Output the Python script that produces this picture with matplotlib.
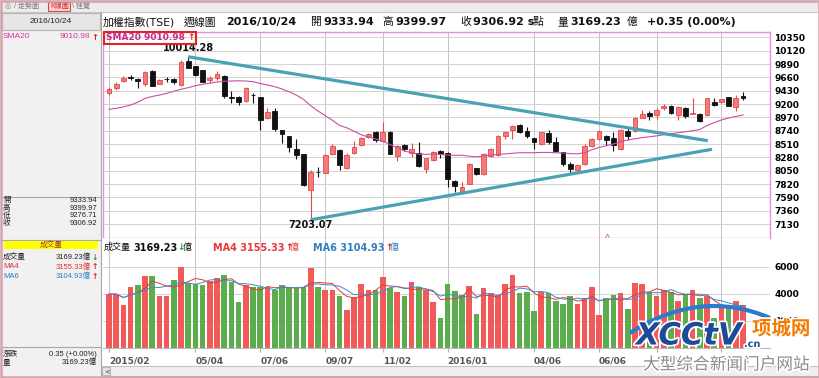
import matplotlib
matplotlib.use('Agg')
import matplotlib.pyplot as plt
import numpy as np
import pandas as pd
from matplotlib.patches import Rectangle, PathPatch
from matplotlib.path import Path
import matplotlib.patheffects as pe

plt.rcParams['font.family'] = ['DejaVu Sans', 'Noto Sans CJK TC']

# ---------------- data ----------------
opens = [9384, 9470, 9597, 9660, 9632, 9540, 9770, 9545, 9632, 9626,
         9528, 9942, 9856, 9781, 9614, 9655, 9689, 9321, 9321, 9252,
         9355, 9315, 8953, 9085, 8746, 8643, 8424, 8332, 7717, 8033,
         8004, 8344, 8413, 8091, 8350, 8493, 8625, 8712, 8562, 8712,
         8298, 8493, 8349, 8361, 8073, 8234, 8390, 8349, 7878, 7700,
         7826, 8091, 7987, 8303, 8321, 8654, 8746, 8838, 8735, 8608,
         8505, 8694, 8551, 8367, 8160, 8056, 8160, 8482, 8597, 8648,
         8620, 8418, 8735, 8735, 8965, 9039, 9010, 9126, 9160, 9010,
         9126, 9033, 9022, 9010, 9229, 9229, 9315, 9154, 9333.94]
highs = [9499, 9574, 9689, 9700, 9643, 9770, 9787, 9626, 9660, 9655,
         9959, 10014.28, 9862, 9793, 9689, 9770, 9700, 9430, 9338, 9499,
         9396, 9327, 9126, 9137, 8746, 8643, 8597, 8332, 8062, 8120,
         8332, 8505, 8424, 8350, 8562, 8637, 8706, 8735, 8895, 8735,
         8493, 8516, 8533, 8551, 8275, 8390, 8407, 8367, 7890, 7861,
         8177, 8102, 8350, 8447, 8666, 8735, 8838, 8850, 8809, 8620,
         8723, 8752, 8637, 8378, 8206, 8160, 8505, 8608, 8752, 8666,
         8723, 8763, 8781, 8982, 9091, 9079, 9126, 9206, 9183, 9160,
         9148, 9298, 9039, 9310, 9310, 9287, 9327, 9355, 9399.97]
lows = [9356, 9442, 9585, 9608, 9482, 9517, 9505, 9540, 9585, 9540,
        9511, 9815, 9689, 9574, 9557, 9620, 9298, 9212, 9183, 9240,
        9223, 8752, 8942, 8740, 8522, 8378, 8252, 7792, 7203.07, 7947,
        8004, 8321, 8062, 8079, 8332, 8481, 8608, 8551, 8551, 8332,
        8217, 8390, 8292, 8114, 8004, 8217, 8275, 7774, 7688, 7688,
        7815, 7976, 7976, 8292, 8309, 8591, 8591, 8694, 8608, 8424,
        8493, 8505, 8378, 8137, 8004, 8045, 8148, 8464, 8579, 8493,
        8390, 8407, 8579, 8723, 8953, 8924, 8942, 9097, 9033, 8924,
        8953, 9022, 8884, 8999, 9171, 9217, 9160, 9079, 9276.71]
closes = [9453, 9540, 9643, 9643, 9597, 9746, 9517, 9614, 9626, 9574,
          9930, 9815, 9700, 9586, 9655, 9712, 9344, 9310, 9229, 9470,
          9350, 8924, 9057, 8769, 8677, 8459, 8321, 7803, 8033, 8027,
          8321, 8476, 8148, 8321, 8459, 8608, 8683, 8574, 8712, 8344,
          8476, 8424, 8418, 8125, 8263, 8367, 8344, 7907, 7786, 7775,
          8165, 7987, 8344, 8424, 8654, 8712, 8821, 8712, 8654, 8551,
          8712, 8551, 8390, 8160, 8073, 8148, 8482, 8597, 8735, 8579,
          8493, 8752, 8654, 8965, 9022, 8999, 9097, 9166, 9045, 9148,
          8999, 9051, 8907, 9298, 9183, 9281, 9171, 9306.57, 9306.92]
sma20 = [9108, 9125, 9150, 9183, 9230, 9298, 9330, 9355, 9384, 9420,
         9455, 9482, 9515, 9540, 9560, 9580, 9592, 9597, 9600, 9597,
         9585, 9555, 9528, 9499, 9460, 9410, 9355, 9280, 9170, 9080,
         9000, 8920, 8830, 8790, 8730, 8670, 8630, 8597, 8560, 8500,
         8450, 8390, 8360, 8335, 8330, 8340, 8330, 8320, 8315, 8315,
         8300, 8290, 8300, 8320, 8330, 8340, 8350, 8360, 8360, 8360,
         8365, 8365, 8360, 8355, 8345, 8340, 8360, 8410, 8450, 8480,
         8510, 8550, 8580, 8600, 8620, 8635, 8650, 8670, 8690, 8705,
         8720, 8740, 8760, 8830, 8880, 8925, 8960, 8985, 9010.98]
volume = [4000, 4000, 3210, 4520, 4666, 5310, 5330, 3850, 3850, 5037,
          6000, 4815, 4740, 4666, 4987, 5210, 5407, 4913, 3407, 4642,
          4518, 4543, 4518, 4271, 4666, 4420, 4420, 4494, 5950, 4543,
          4296, 4296, 3876, 2839, 3802, 4765, 4296, 4296, 5284, 4469,
          4173, 3876, 4864, 4494, 4271, 3382, 2198, 4716, 4222, 3926,
          4617, 2494, 4469, 4049, 3926, 4716, 5407, 4049, 4123, 2741,
          4123, 4049, 3481, 3284, 3876, 3284, 3728, 4494, 2444, 3728,
          3926, 4099, 2889, 4839, 4716, 4173, 3852, 4296, 4123, 3481,
          3975, 4296, 3700, 3852, 2200, 2950, 3020, 3481, 3169.23]
vol_dir = list("rrrrgrgrrg" "rgggrrgggr" "ggrgggggrg" "rrgrrrrgrg" "rgrgrrgggg"
               "rgrrrrrggg" "rggggrrrrg" "grgrrgrrgr" "grgrgrgrr")
date_idx = [0, 12, 21, 30, 38, 47, 59, 68, 76, 85]
date_labels = ['2015/02', '05/04', '07/06', '09/07', '11/02', '2016/01',
               '04/06', '06/06', '08/01', '10/03']
price_ticks = [7130, 7360, 7590, 7820, 8050, 8280, 8510, 8740, 8970, 9200,
               9430, 9660, 9890, 10120, 10350]
vol_ticks = [2000, 4000, 6000]
trend_upper_x = [11, 83.1]
trend_upper_y = [10014.28, 8567]
trend_lower_x = [28, 83.7]
trend_lower_y = [7203.07, 8419]

idx = np.arange(len(closes))
opens = np.array(opens, float); highs = np.array(highs, float)
lows = np.array(lows, float); closes = np.array(closes, float)
vol = pd.Series(volume, dtype=float)
ma4 = vol.rolling(4, min_periods=1).mean()
ma6 = vol.rolling(6, min_periods=1).mean()

# ---------------- figure ----------------
W, H = 820, 378
fig = plt.figure(figsize=(W / 100, H / 100), dpi=100)
fig.patch.set_facecolor('white')

def fx(x): return x / W
def fy(y): return 1 - y / H

def ftext(x, y, s, **kw):
    kw.setdefault('va', 'center')
    kw.setdefault('ha', 'left')
    return fig.text(fx(x), fy(y), s, **kw)

def frect(x0, y0, x1, y1, **kw):
    r = Rectangle((fx(x0), fy(y1)), fx(x1) - fx(x0), fy(y0) - fy(y1),
                  transform=fig.transFigure, **kw)
    fig.add_artist(r)
    return r

def fline(xs, ys, **kw):
    fig.add_artist(plt.Line2D([fx(x) for x in xs], [fy(y) for y in ys],
                              transform=fig.transFigure, **kw))

# top bar & left panel
frect(0, 0, 820, 12, facecolor='#ECECEC', edgecolor='none', zorder=0)
frect(0, 12, 101, 378, facecolor='#F1F1F1', edgecolor='none', zorder=0)
fline([0, 820], [12, 12], color='#C8C8C8', lw=0.8)
frect(2, 13, 100, 30, facecolor='#E6E6E6', edgecolor='#B4B4B4', lw=0.8)
fline([101, 101], [12, 378], color='#A8A8A8', lw=0.8)
small = ['Liberation Sans', 'Noto Sans CJK TC']
ftext(5, 6, '◎', fontsize=5, color='#888888')
ftext(14, 6, '/ 走勢圖', fontsize=5, color='#777777', family=small)
frect(48, 2, 70, 11, facecolor='#F6D6D6', edgecolor='#E04040', lw=0.8)
ftext(50, 6.5, 'K線圖', fontsize=5, color='#D02020', family=small)
ftext(72, 6, '\\ 速覽', fontsize=5, color='#777777', family=small)
ftext(51, 21.5, '2016/10/24', fontsize=6, ha='center', color='#222222', family=small)

ftext(3, 37, 'SMA20', fontsize=6, color='#D4389C', family=small)
ftext(90, 37, '9010.98', fontsize=6, ha='right', color='#D4389C', family=small)
ftext(91, 37, '↑', fontsize=6, color='#E02020', fontweight='bold')

fline([2, 100], [197, 197], color='#A8A8A8', lw=0.8)
for yy, lab, val in [(200.7, '開', '9333.94'), (208.2, '高', '9399.97'),
                     (215.7, '低', '9276.71'), (223.2, '收', '9306.92')]:
    ftext(3, yy, lab, fontsize=5.5, color='#222222', family=small)
    ftext(97, yy, val, fontsize=5.5, ha='right', color='#222222', family=small)

fline([2, 100], [239.5, 239.5], color='#A8A8A8', lw=0.8)
frect(4, 241, 98, 248.5, facecolor='#FFFF00', edgecolor='none')
ftext(51, 244.8, '成交量', fontsize=5.5, ha='center', color='#A83030', family=small)
ftext(3, 257, '成交量', fontsize=5.5, color='#222222', family=small)
ftext(91, 257, '3169.23億', fontsize=5.5, ha='right', color='#222222', family=small)
ftext(92, 257, '↓', fontsize=5.5, color='#1E9E2E', fontweight='bold')
ftext(3, 266.7, 'MA4', fontsize=5.5, color='#E03030', family=small)
ftext(91, 266.7, '3155.33億', fontsize=5.5, ha='right', color='#E03030', family=small)
ftext(92, 266.7, '↑', fontsize=5.5, color='#E02020', fontweight='bold')
ftext(3, 276.4, 'MA6', fontsize=5.5, color='#2E7FC0', family=small)
ftext(91, 276.4, '3104.93億', fontsize=5.5, ha='right', color='#2E7FC0', family=small)
ftext(92, 276.4, '↑', fontsize=5.5, color='#E02020', fontweight='bold')

fline([2, 100], [346.5, 346.5], color='#A8A8A8', lw=0.8)
ftext(3, 354.5, '漲跌', fontsize=5.5, color='#222222', family=small)
ftext(97, 354.5, '0.35 (+0.00%)', fontsize=5.5, ha='right', color='#222222', family=small)
ftext(3, 362.5, '量', fontsize=5.5, color='#222222', family=small)
ftext(97, 362.5, '3169.23億', fontsize=5.5, ha='right', color='#222222', family=small)

# scrollbar
frect(101, 366, 820, 376, facecolor='#EFEFEF', edgecolor='#C4C4C4', lw=0.8)
frect(102, 367, 110, 375, facecolor='#E2E2E2', edgecolor='#B0B0B0', lw=0.6)
ftext(104, 371, '<', fontsize=5, color='#444444')

# title row
ftext(103, 22, '加權指數(TSE)', fontsize=7.8, color='#111111')
ftext(184, 22, '週線圖', fontsize=7.8, color='#111111')
ftext(226, 22, '2016/10/24', fontsize=8, fontweight='bold', color='#111111')
ftext(310, 22, '開', fontsize=7.8, color='#111111')
ftext(323, 22, '9333.94', fontsize=8, fontweight='bold', color='#111111')
ftext(382, 22, '高', fontsize=7.8, color='#111111')
ftext(395, 22, '9399.97', fontsize=8, fontweight='bold', color='#111111')
ftext(460, 22, '收', fontsize=7.8, color='#111111')
ftext(473, 22, '9306.92 s', fontsize=8, fontweight='bold', color='#111111')
ftext(533, 22, '點', fontsize=7.8, color='#111111')
ftext(557, 22, '量', fontsize=7.8, color='#111111')
ftext(570, 22, '3169.23', fontsize=8, fontweight='bold', color='#111111')
ftext(627, 22, '億', fontsize=7.8, color='#111111')
ftext(647, 22, '+0.35 (0.00%)', fontsize=8, fontweight='bold', color='#111111')

# ---------------- price axes ----------------
XL = (-0.83, 91.74)
axp = fig.add_axes([fx(103), fy(238), fx(770) - fx(103), fy(32) - fy(238)])
axp.set_xlim(*XL)
axp.set_ylim(6889, 10442)
axp.set_yticks(price_ticks)
axp.yaxis.tick_right()
axp.tick_params(axis='y', length=0, pad=3, labelsize=6.5)
for lab in axp.get_yticklabels():
    lab.set_fontweight('bold')
axp.set_xticks(date_idx)
axp.tick_params(axis='x', length=0, labelbottom=False)
axp.grid(True, axis='y', color='#D2D2D2', lw=0.7)
axp.grid(True, axis='x', color='#C4C4C4', lw=0.7)
axp.set_axisbelow(True)
for s in axp.spines.values():
    s.set_color('#E48EE4'); s.set_linewidth(1.0)

up = closes >= opens
wick_col = np.where(up, '#E24A4A', '#111111')
axp.vlines(idx, lows, highs, colors=wick_col, lw=0.8, zorder=2)
body_bot = np.minimum(opens, closes)
body_h = np.maximum(np.abs(closes - opens), 8)
axp.bar(idx, body_h, bottom=body_bot, width=0.66,
        color=np.where(up, '#F47A7A', '#111111'),
        edgecolor=np.where(up, '#E24A4A', '#111111'), lw=0.6, zorder=3)
axp.plot(idx, sma20, color='#C850A0', lw=0.8, zorder=4)
axp.plot(trend_upper_x, trend_upper_y, color='#4AA2B6', lw=2.3,
         solid_capstyle='butt', zorder=5)
axp.plot(trend_lower_x, trend_lower_y, color='#4AA2B6', lw=2.3,
         solid_capstyle='butt', zorder=5)
imax = int(np.argmax(highs)); imin = int(np.argmin(lows))
axp.annotate(f'{highs[imax]:.2f}', xy=(imax, highs[imax]), xytext=(0, 2.5),
             textcoords='offset points', ha='center', va='bottom',
             fontsize=7, fontweight='bold', color='#111111', zorder=6)
axp.annotate(f'{lows[imin]:.2f}', xy=(imin, lows[imin]), xytext=(0, -0.5),
             textcoords='offset points', ha='center', va='top',
             fontsize=7, fontweight='bold', color='#111111', zorder=6)
axp.plot([69.1], [6922], marker='^', ms=3.5, mfc='none', mec='#D070D0',
         mew=0.7, clip_on=False, zorder=6)

# SMA20 legend box
frect(104, 32.5, 196, 44, fill=False, edgecolor='#E02424', lw=1.5, zorder=10)
ftext(106, 38, 'SMA20 9010.98', fontsize=6.5, fontweight='bold', color='#C8288C', zorder=11)
ftext(187, 38, '↑', fontsize=6.5, fontweight='bold', color='#E02020', zorder=11)

# ---------------- volume axes ----------------
axv = fig.add_axes([fx(103), fy(348), fx(770) - fx(103), fy(238) - fy(348)])
axv.set_xlim(*XL)
axv.set_ylim(0, 8148)
axv.set_yticks(vol_ticks)
axv.yaxis.tick_right()
axv.tick_params(axis='y', length=0, pad=3, labelsize=6.5)
for lab in axv.get_yticklabels():
    lab.set_fontweight('bold')
axv.set_xticks(date_idx)
axv.set_xticklabels(date_labels, ha='left')
axv.tick_params(axis='x', length=3, color='#B0B0B0', pad=3, labelsize=6.5,
                labelcolor='#555555')
for lab in axv.get_xticklabels():
    lab.set_fontweight('bold')
axv.grid(True, axis='y', color='#D2D2D2', lw=0.7)
axv.grid(True, axis='x', color='#C4C4C4', lw=0.7)
axv.set_axisbelow(True)
for k, s in axv.spines.items():
    s.set_visible(k == 'bottom')
axv.spines['bottom'].set_color('#B8B8B8')
vcol = ['#F25A5A' if c == 'r' else '#5BAD4E' for c in vol_dir]
axv.bar(idx, volume, width=0.78, color=vcol, zorder=2)
axv.plot(idx, ma4, color='#E83838', lw=0.7, zorder=3)
axv.plot(idx, ma6, color='#3C8CD0', lw=0.7, zorder=3)

ftext(104, 247.7, '成交量', fontsize=6.5, color='#111111', zorder=6)
ftext(133, 247.7, '3169.23', fontsize=7, fontweight='bold', color='#111111')
ftext(177, 247.7, '↓', fontsize=6.5, fontweight='bold', color='#1E9E2E')
ftext(183, 247.7, '億', fontsize=6.5, color='#111111')
ftext(213, 247.7, 'MA4 3155.33', fontsize=7, fontweight='bold', color='#E83838')
ftext(285, 247.7, '↑', fontsize=6.5, fontweight='bold', color='#E02020')
ftext(290, 247.7, '億', fontsize=6.5, color='#E83838')
ftext(313, 247.7, 'MA6 3104.93', fontsize=7, fontweight='bold', color='#2E7FC0')
ftext(385, 247.7, '↑', fontsize=6.5, fontweight='bold', color='#E02020')
ftext(390, 247.7, '億', fontsize=6.5, color='#2E7FC0')

# ---------------- watermark ----------------
verts = [(fx(630), fy(333)), (fx(700), fy(288)), (fx(770), fy(318))]
swoosh = PathPatch(Path(verts, [Path.MOVETO, Path.CURVE3, Path.CURVE3]),
                   transform=fig.transFigure, facecolor='none',
                   edgecolor='#2B7BCB', lw=3, zorder=20)
fig.add_artist(swoosh)
white = [pe.withStroke(linewidth=2.5, foreground='white')]
ftext(636, 336, 'XCCtV', fontsize=22, fontweight='bold', style='italic',
      color='#1C4B9A', path_effects=white, zorder=21)
ftext(744, 344, '.cn', fontsize=7, fontweight='bold', color='#1C4B9A',
      path_effects=white, zorder=21)
ftext(752, 329, '项城网', fontsize=14, fontweight='bold', color='#F47B00',
      family=['Noto Sans CJK SC'], path_effects=white, zorder=21)
ftext(643, 365, '大型综合新闻门户网站', fontsize=12, color='#8C8C8C',
      family=['Noto Sans CJK SC'], path_effects=white, zorder=21)

# outer frame
frect(0.8, 0.8, 819.2, 377.2, fill=False, edgecolor='#D6A2AC', lw=1.8, zorder=30)

fig.savefig('out.png', dpi=100)
